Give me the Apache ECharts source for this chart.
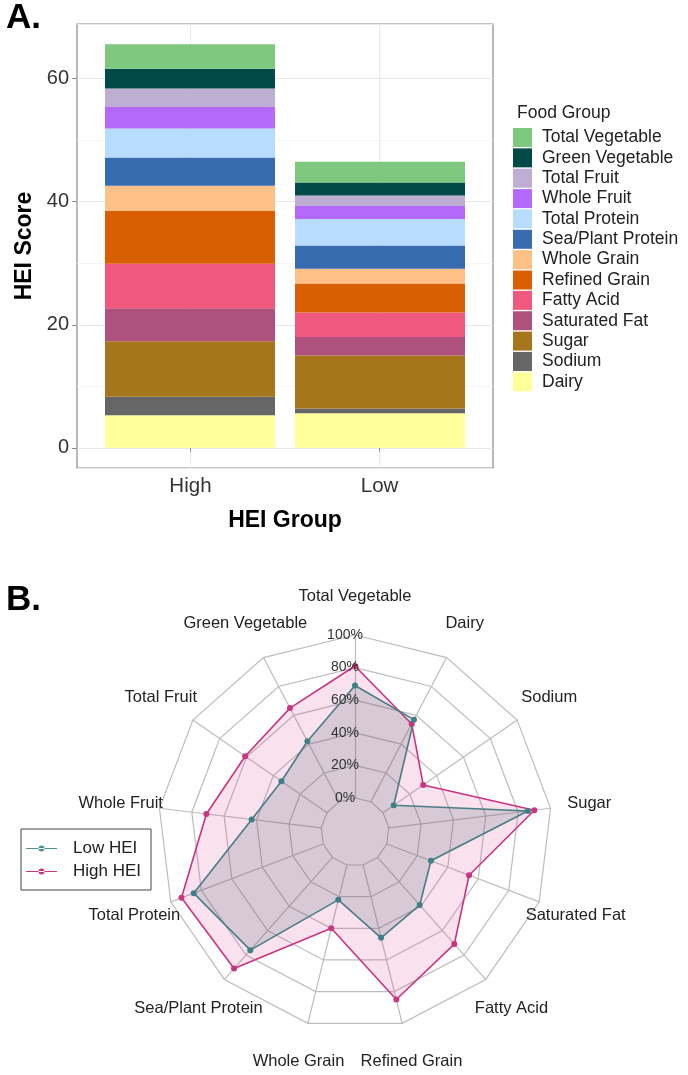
<!DOCTYPE html>
<html><head><meta charset="utf-8">
<script src="https://cdn.jsdelivr.net/npm/echarts@6/dist/echarts.min.js"></script>
<style>html,body{margin:0;padding:0;background:#fff}#c{width:688px;height:1075px}</style>
</head><body><div id="c"></div>
<script>
// ---------- Data ----------
const groups = ['High', 'Low'];
const foodGroups = ['Dairy', 'Sodium', 'Sugar', 'Saturated Fat', 'Fatty Acid', 'Refined Grain', 'Whole Grain',
  'Sea/Plant Protein', 'Total Protein', 'Whole Fruit', 'Total Fruit', 'Green Vegetable', 'Total Vegetable'];
const highScores = [5.3, 3.0, 9.0, 5.4, 7.2, 8.6, 4.1, 4.6, 4.7, 3.5, 3.0, 3.2, 4.0];
const lowScores  = [5.6, 0.8, 8.6, 3.0, 4.0, 4.7, 2.4, 3.8, 4.3, 2.1, 1.7, 2.1, 3.4];
const yTicks = [0, 20, 40, 60];

const radarAxes = ['Total Vegetable', 'Green Vegetable', 'Total Fruit', 'Whole Fruit', 'Total Protein',
  'Sea/Plant Protein', 'Whole Grain', 'Refined Grain', 'Fatty Acid', 'Saturated Fat', 'Sugar', 'Sodium', 'Dairy'];
const highPct = [81, 65, 61, 71, 93, 91, 40, 85, 71, 54, 90, 30, 54];
const lowPct  = [69, 42, 34, 43, 85, 76, 22, 46, 39, 29, 86, 8, 57];
const pctTicks = [0, 20, 40, 60, 80, 100];

// ---------- Styles ----------
const foodColors = {
  'Total Vegetable': '#7fc97f', 'Green Vegetable': '#024a47', 'Total Fruit': '#beaed4',
  'Whole Fruit': '#b469fb', 'Total Protein': '#b7dcfc', 'Sea/Plant Protein': '#386cb0',
  'Whole Grain': '#fdc086', 'Refined Grain': '#d95f02', 'Fatty Acid': '#f0587d',
  'Saturated Fat': '#ae527d', 'Sugar': '#a6761d', 'Sodium': '#666666', 'Dairy': '#ffff99'
};
const FONT = '"Liberation Sans", Arial, sans-serif';
const HIGH_C = '#c9357f', LOW_C = '#4a7f88';

const scoresByGroup = [highScores, lowScores];
const totals = scoresByGroup.map(a => a.reduce((s, v) => s + v, 0));
const yMaxData = Math.max(...totals);
const yMin = -0.05 * yMaxData, yMax = 1.05 * yMaxData;

const barSeries = foodGroups.map((name, i) => ({
  type: 'bar', name, stack: 'hei', xAxisIndex: 1, yAxisIndex: 2, barWidth: 170,
  itemStyle: { color: foodColors[name] },
  emphasis: { disabled: true },
  data: groups.map((g, j) => scoresByGroup[j][i])
}));

const legendIconPath = 'path://M0,2.6 L31,2.6 L31,3.4 L0,3.4 Z M12.5,3 A3,3 0 1 0 18.5,3 A3,3 0 1 0 12.5,3 Z';

const chart = echarts.init(document.getElementById('c'), null, { renderer: 'canvas', width: 688, height: 1075 });
chart.setOption({
  animation: false,
  backgroundColor: '#fff',
  textStyle: { fontFamily: FONT },
  title: [
    { text: 'A.', left: 1, top: -4, textStyle: { fontSize: 35, fontWeight: 'bold', color: '#000', fontFamily: FONT } },
    { text: 'Food Group', left: 512, top: 99, textStyle: { fontSize: 17.5, fontWeight: 'normal', color: '#222', fontFamily: FONT } },
    { text: 'B.', left: 1, top: 578, textStyle: { fontSize: 35, fontWeight: 'bold', color: '#000', fontFamily: FONT } }
  ],
  grid: [
    { left: 77, top: 24, width: 416, height: 444, show: true, borderColor: '#8a8a8a', borderWidth: 1.2, backgroundColor: 'transparent' },
    { left: 95, top: 24, width: 380, height: 444, show: false }
  ],
  xAxis: [{
    type: 'value', gridIndex: 0, min: 1 - 0.6, max: groups.length + 0.6, splitNumber: 2,
    axisLine: { show: false },
    axisTick: { show: true, customValues: [1, 2], length: 4, lineStyle: { color: '#8a8a8a' } },
    axisLabel: { customValues: [1, 2], margin: 8, fontSize: 20.5, color: '#333',
      formatter: v => (Math.abs(v - Math.round(v)) < 1e-6 && groups[Math.round(v) - 1]) ? groups[Math.round(v) - 1] : '' },
    splitLine: { show: true, lineStyle: { color: '#ebebeb', width: 1 } },
    name: 'HEI Group', nameLocation: 'middle', nameGap: 41,
    nameTextStyle: { fontSize: 23, fontWeight: 'bold', color: '#000' }
  }, {
    type: 'category', gridIndex: 1, data: groups, show: false
  }],
  yAxis: [
    { // minor grid
      type: 'value', gridIndex: 0, min: yMin, max: yMax, splitNumber: 7, position: 'left',
      axisLine: { show: false }, axisTick: { show: false }, axisLabel: { show: false },
      splitLine: { show: true, lineStyle: { color: '#f3f3f3', width: 0.8 } }
    },
    { // major grid, labels
      type: 'value', gridIndex: 0, min: yMin, max: yMax, splitNumber: 3, position: 'left',
      axisLine: { show: false },
      axisTick: { show: true, customValues: yTicks, length: 5, lineStyle: { color: '#8a8a8a' } },
      axisLabel: { customValues: yTicks, margin: 8, fontSize: 20, color: '#333',
        formatter: v => yTicks.some(t => Math.abs(t - v) < 1e-6) ? String(Math.round(v)) : '' },
      splitLine: { show: true, lineStyle: { color: '#e8e8e8', width: 1 } },
      name: 'HEI Score', nameLocation: 'middle', nameGap: 34, nameRotate: 90,
      nameTextStyle: { fontSize: 23, fontWeight: 'bold', color: '#000' }
    },
    { // bars
      type: 'value', gridIndex: 1, min: yMin, max: yMax, show: false, splitLine: { show: false }
    }
  ],
  legend: [
    {
      orient: 'vertical', left: 513, top: 128, padding: 0, itemWidth: 19, itemHeight: 19, itemGap: 1.36,
      icon: 'rect', selectedMode: false,
      data: foodGroups.slice().reverse(),
      itemStyle: { borderWidth: 0 },
      textStyle: { fontSize: 17.5, color: '#222', padding: [0, 0, 0, 5] }
    },
    {
      orient: 'vertical', left: 21, top: 829, padding: [11, 10, 10, 5], itemGap: 6,
      itemWidth: 31, itemHeight: 6, selectedMode: false,
      borderColor: '#444', borderWidth: 1,
      data: [
        { name: 'Low HEI', icon: legendIconPath, itemStyle: { color: '#4a9393', borderWidth: 0 } },
        { name: 'High HEI', icon: legendIconPath, itemStyle: { color: HIGH_C, borderWidth: 0 } }
      ],
      textStyle: { fontSize: 17, color: '#222', padding: [0, 0, 0, 11] }
    }
  ],
  radar: {
    center: [355, 832], radius: [34, 197], startAngle: 90, shape: 'polygon', splitNumber: 5,
    indicator: radarAxes.map(n => ({ name: n, min: 0, max: 100 })),
    nameGap: 39,
    axisName: { color: '#222', fontSize: 16.5, align: 'center', verticalAlign: 'middle', fontFamily: FONT },
    axisLine: { lineStyle: { color: '#bdbdbd', width: 1.2 } },
    splitLine: { lineStyle: { color: '#bdbdbd', width: 1.2 } },
    splitArea: { show: false },
    axisTick: { show: false }, axisLabel: { show: false }
  },
  polar: { center: [355, 832], radius: [34, 197] },
  angleAxis: { type: 'value', startAngle: 90, min: 0, max: 360, show: false },
  radiusAxis: {
    type: 'value', min: 0, max: 100, interval: 20, z: 10,
    axisLine: { show: false }, axisTick: { show: false }, splitLine: { show: false },
    axisLabel: { show: true, formatter: '{value}%', fontSize: 14, color: '#333', align: 'center', verticalAlign: 'middle', margin: 10 }
  },
  series: barSeries.concat([{
    type: 'radar', symbol: 'circle', symbolSize: 6, z: 3,
    emphasis: { disabled: true },
    data: [
      { name: 'High HEI', value: highPct,
        itemStyle: { color: HIGH_C }, lineStyle: { color: HIGH_C, width: 1.6 },
        areaStyle: { color: 'rgba(214,51,132,0.2)' } },
      { name: 'Low HEI', value: lowPct,
        itemStyle: { color: '#3d8086' }, lineStyle: { color: LOW_C, width: 1.6 },
        areaStyle: { color: 'rgba(70,100,112,0.27)' } }
    ]
  }])
});
</script></body></html>
